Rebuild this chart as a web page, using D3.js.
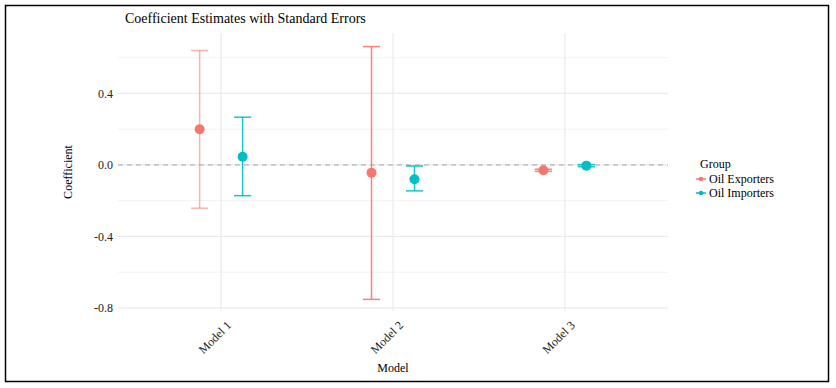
<!DOCTYPE html>
<html>
<head>
<meta charset="utf-8">
<script src="https://cdn.jsdelivr.net/npm/d3@7"></script>
<style>
  body { margin: 0; background: #fff; }
</style>
</head>
<body>
<script>
const width = 836;
const height = 388;

// data
const models = ["Model 1", "Model 2", "Model 3"];
const groups = ["Oil Exporters", "Oil Importers"];
const exporterEst = [0.20, -0.043, -0.030];
const exporterLow = [-0.242, -0.752, -0.036];
const exporterHigh = [0.640, 0.662, -0.024];
const importerEst = [0.046, -0.080, -0.004];
const importerLow = [-0.172, -0.145, -0.010];
const importerHigh = [0.267, -0.006, 0.002];
const yTicks = [-0.8, -0.4, 0.0, 0.4];
const yMinor = [-0.6, -0.2, 0.2, 0.6];

const colors = {"Oil Exporters": "#F8766D", "Oil Importers": "#00BFC4"};

const rows = [];
models.forEach((m, i) => {
    rows.push({model: m, group: groups[0], est: exporterEst[i], lo: exporterLow[i], hi: exporterHigh[i]});
    rows.push({model: m, group: groups[1], est: importerEst[i], lo: importerLow[i], hi: importerHigh[i]});
});

const panel = {left: 118, right: 668, top: 33, bottom: 311};

const svg = d3.select('body').append('svg')
    .attr('width', width)
    .attr('height', height)
    .attr('font-family', "'Liberation Serif', 'Times New Roman', 'DejaVu Serif', serif");

svg.append('rect')
    .attr('x', 5.5).attr('y', 5.5)
    .attr('width', 823).attr('height', 376)
    .attr('fill', '#fff')
    .attr('stroke', '#000')
    .attr('stroke-width', 1.5);

// discrete x with ggplot-style 0.6 expansion
const x = d3.scaleLinear()
    .domain([0.4, models.length + 0.6])
    .range([panel.left, panel.right]);
const xPos = m => x(models.indexOf(m) + 1);
const dodge = d3.scaleOrdinal().domain(groups).range([-0.125, 0.125]);

const y = d3.scaleLinear()
    .domain([-0.817, 0.738])
    .range([panel.bottom, panel.top]);

// grid
const grid = svg.append('g');
grid.selectAll('line.minor')
    .data(yMinor)
    .enter().append('line')
    .attr('x1', panel.left).attr('x2', panel.right)
    .attr('y1', d => y(d)).attr('y2', d => y(d))
    .attr('stroke', '#f2f2f2')
    .attr('stroke-width', 1);
grid.selectAll('line.major')
    .data(yTicks)
    .enter().append('line')
    .attr('x1', panel.left).attr('x2', panel.right)
    .attr('y1', d => y(d)).attr('y2', d => y(d))
    .attr('stroke', '#ebebeb')
    .attr('stroke-width', 1.2);
grid.selectAll('line.vert')
    .data(models)
    .enter().append('line')
    .attr('x1', d => xPos(d)).attr('x2', d => xPos(d))
    .attr('y1', panel.top).attr('y2', panel.bottom)
    .attr('stroke', '#ebebeb')
    .attr('stroke-width', 1.2);

// zero line
svg.append('line')
    .attr('x1', panel.left).attr('x2', panel.right)
    .attr('y1', y(0)).attr('y2', y(0))
    .attr('stroke', '#a8a8a8')
    .attr('stroke-dasharray', '5,4')
    .attr('stroke-width', 1);

// error bars
const capHalf = (x(1.05) - x(1));
const bars = svg.append('g').selectAll('g')
    .data(rows)
    .enter().append('g')
    .attr('stroke', d => colors[d.group])
    .attr('stroke-width', 1.5)
    .attr('stroke-opacity', d => d.model === "Model 1" && d.group === groups[0] ? 0.55 : 0.9);
bars.append('line')
    .attr('x1', d => x(models.indexOf(d.model) + 1 + dodge(d.group)))
    .attr('x2', d => x(models.indexOf(d.model) + 1 + dodge(d.group)))
    .attr('y1', d => y(d.lo)).attr('y2', d => y(d.hi));
bars.append('line')
    .attr('x1', d => x(models.indexOf(d.model) + 1 + dodge(d.group)) - capHalf)
    .attr('x2', d => x(models.indexOf(d.model) + 1 + dodge(d.group)) + capHalf)
    .attr('y1', d => y(d.hi)).attr('y2', d => y(d.hi));
bars.append('line')
    .attr('x1', d => x(models.indexOf(d.model) + 1 + dodge(d.group)) - capHalf)
    .attr('x2', d => x(models.indexOf(d.model) + 1 + dodge(d.group)) + capHalf)
    .attr('y1', d => y(d.lo)).attr('y2', d => y(d.lo));

// points
svg.append('g').selectAll('circle')
    .data(rows)
    .enter().append('circle')
    .attr('cx', d => x(models.indexOf(d.model) + 1 + dodge(d.group)))
    .attr('cy', d => y(d.est))
    .attr('r', 5)
    .attr('fill', d => colors[d.group]);

// y axis labels
svg.append('g').selectAll('text')
    .data(yTicks)
    .enter().append('text')
    .attr('x', panel.left - 5)
    .attr('y', d => y(d))
    .attr('dy', '0.35em')
    .attr('text-anchor', 'end')
    .attr('font-size', 12)
    .attr('fill', '#222')
    .text(d => d3.format('.1f')(d).replace('−', '-'));

// x axis labels, rotated 45
svg.append('g').selectAll('text')
    .data(models)
    .enter().append('text')
    .attr('transform', d => `translate(${xPos(d) + 5},${panel.bottom + 9}) rotate(-45)`)
    .attr('text-anchor', 'end')
    .attr('dy', '0.7em')
    .attr('font-size', 12)
    .attr('fill', '#222')
    .text(d => d);

// axis titles
svg.append('text')
    .attr('x', (panel.left + panel.right) / 2)
    .attr('y', 372)
    .attr('text-anchor', 'middle')
    .attr('font-size', 12)
    .text('Model');

svg.append('text')
    .attr('transform', `translate(72,${(panel.top + panel.bottom) / 2}) rotate(-90)`)
    .attr('text-anchor', 'middle')
    .attr('font-size', 12)
    .text('Coefficient');

svg.append('text')
    .attr('x', 125)
    .attr('y', 23)
    .attr('font-size', 14)
    .text('Coefficient Estimates with Standard Errors');

// legend
const legend = svg.append('g').attr('transform', 'translate(696,0)');
legend.append('text')
    .attr('x', 4).attr('y', 168)
    .attr('font-size', 12)
    .text('Group');
const items = legend.selectAll('g.item')
    .data(groups)
    .enter().append('g')
    .attr('transform', (d, i) => `translate(0,${179 + i * 14})`);
items.append('line')
    .attr('x1', 0).attr('x2', 10)
    .attr('stroke', d => colors[d])
    .attr('stroke-width', 1.5);
items.append('circle')
    .attr('cx', 5).attr('r', 2.3)
    .attr('fill', d => colors[d]);
items.append('text')
    .attr('x', 13)
    .attr('dy', '0.35em')
    .attr('font-size', 12)
    .text(d => d);
</script>
</body>
</html>
